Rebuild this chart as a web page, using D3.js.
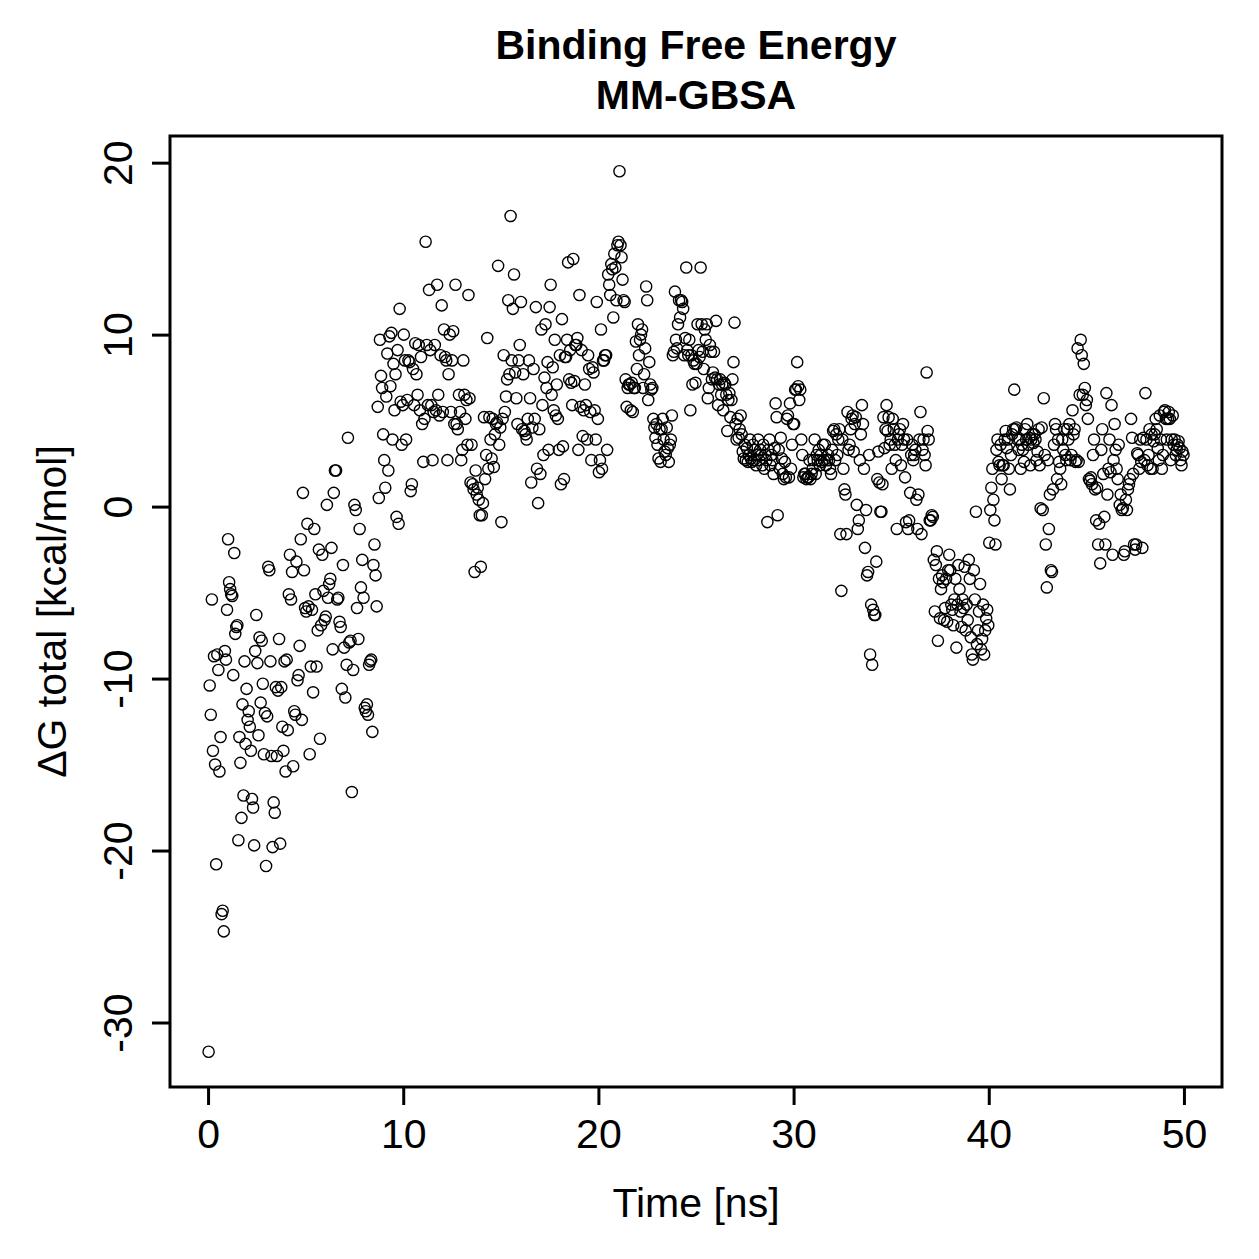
<!DOCTYPE html>
<html>
<head>
<meta charset="utf-8">
<script src="https://cdn.jsdelivr.net/npm/d3@7"></script>
<style>
  html, body { margin: 0; padding: 0; background: #fff; }
  svg text { font-family: "Liberation Sans", Arial, Helvetica, sans-serif; fill: #000; }
</style>
</head>
<body>
<svg id="chart" width="1259" height="1259"></svg>
<script>
// Chart texts
const titleLines = ["Binding Free Energy", "MM-GBSA"];
const xLabel = "Time [ns]";
const yLabel = "\u0394G total [kcal/mol]";
const xTicks = [0, 10, 20, 30, 40, 50];
const yTicks = [-30, -20, -10, 0, 10, 20];

// ΔG total values (kcal/mol), grouped per nanosecond of simulation time
const dG_00_10 = [
  [-31.7,-10.4,-12.1,-5.4,-14.2,-8.7,-15.0,-20.8,-8.6,-9.5,-15.4,-13.4,-23.7,-23.5,-24.7,-8.4,-8.9,-6.0],
  [-1.9,-4.4,-4.8,-5.1,-5.2,-9.8,-2.7,-7.4,-7.0,-6.9,-19.4,-13.4,-14.9,-18.1,-11.5,-16.8,-9.0,-13.8,-10.6],
  [-12.4,-11.9,-12.8,-14.2,-17.0,-17.5,-19.7,-8.4,-6.3,-9.1,-13.3,-7.6,-11.4,-7.8,-10.3,-14.4,-12.0,-20.9],
  [-12.2,-3.5,-3.7,-9.0,-14.5,-19.8,-17.2,-17.8,-10.5,-14.5,-10.7,-7.7,-19.6,-10.5,-12.8,-14.2,-9.0,-15.4],
  [-8.9,-13.0,-5.1,-2.8,-5.4,-3.8,-15.1,-11.9,-12.1,-3.2,-10.1,-9.8,-8.1,-1.9,-12.4,0.8,-3.7,-5.9],
  [-6.1,-1.0,-5.8,-14.4,-9.3,-6.0,-10.8,-1.3,-5.1,-9.3,-7.2,-2.5,-13.5,-6.9,-2.8,-4.9,-6.6],
  [-6.4,0.1,-5.3,-4.5,-4.2,-2.4,-8.3,0.8,2.1,2.1,-5.4,-5.3,-6.7,-7.0,-10.6,-3.4,-8.2],
  [-11.1,-9.2,4.0,-7.9,-7.8,-16.6,-9.5,0.1,-0.2,-5.9,-7.7,-1.3,-4.7,-3.1,-5.3],
  [-11.7,-11.9,-11.5,-12.1,-9.2,-9.0,-8.9,-13.1,-3.4,-2.2,-4.0,-5.8,5.8,0.5,9.7,7.6,6.9,4.2],
  [2.7,1.1,6.4,8.9,2.1,9.9,7.0,10.1,3.9,8.3,5.6,7.7,-0.6,9.1,-1.0,11.5,6.1,3.6,5.9]
];
const dG_10_20 = [
  [10.0,8.5,3.9,6.2,8.5,8.4,0.9,1.3,8.0,5.9,9.5,7.7,6.5,9.4,5.6,8.7,4.8],
  [2.6,5.1,15.4,9.4,5.9,12.6,9.1,5.9,2.7,5.5,9.4,5.6,12.9,6.5,5.3,8.8,11.7],
  [5.5,10.3,8.7,8.5,2.7,7.7,10.0,5.5,8.5,10.2,4.8,12.9,4.8,4.5,6.5,5.5,2.7],
  [3.3,8.5,6.5,5.1,6.2,3.6,12.3,6.3,1.4,3.6,1.3,1.0,-3.8,2.1,0.7,1.1,0.4,-0.5,-3.5],
  [-0.5,0.2,5.2,1.6,3.0,9.8,2.2,5.2,3.9,2.8,5.1,2.3,4.2,4.8,4.9,14.0,3.6,4.6],
  [-0.9,5.1,8.8,5.5,6.4,7.4,12.0,7.7,16.9,8.5,11.5,13.5,7.8,6.3,4.8,8.5,9.4],
  [11.9,4.5,7.7,4.4,4.2,3.9,5.1,8.5,6.3,1.4,4.6,8.0,5.1,11.6,2.2,0.2,4.5],
  [1.9,10.3,5.9,3.0,7.5,10.6,6.9,8.4,3.3,11.6,12.9,6.5,8.1,5.6,9.7,5.3,7.1,5.1,3.3],
  [8.8,1.3,10.9,3.5,1.6,8.7,8.7,9.7,14.2,7.4,9.1,7.2,5.9,14.4,7.3,9.4,9.4,9.8,3.3],
  [12.3,5.8,9.1,4.1,5.6,7.1,5.9,3.9,8.8,8.0,5.5,2.7,8.1,7.8,5.6,3.9,11.9,5.1]
];
const dG_20_30 = [
  [2.0,2.7,10.3,2.2,8.5,8.5,8.8,8.8,3.3,13.5,12.9,12.3,14.1,13.8,11.0,14.7,13.9,12.0,15.2],
  [15.4,19.5,15.2,14.5,13.2,12.0,11.9,7.4,5.8,6.9,7.1,7.1,5.6,7.2,5.5,6.9,6.9,9.6,8.0],
  [10.6,8.8,9.7,10.0,10.3,6.9,7.7,9.2,12.8,12.0,6.2,8.4,7.1,6.8,6.9,5.1,4.6,4.0,4.8],
  [3.6,2.8,4.5,2.6,4.5,5.1,3.9,3.2,3.0,4.6,3.4,2.6,3.6,3.9,5.3,8.8,9.0,12.5,9.7],
  [9.2,10.6,12.0,11.0,12.0,11.9,11.5,8.8,9.8,13.9,9.1,8.8,9.7,5.6,8.8,7.1,8.5,8.3,7.2],
  [8.3,10.6,9.1,8.7,13.9,10.6,9.0,8.0,10.3,9.7,10.6,6.3,6.9,9.4,9.0,7.4,7.8,9.0,7.5],
  [10.8,7.4,5.9,7.1,7.4,6.5,7.1,5.6,7.2,7.1,6.5,4.4,6.2,6.6,5.2,6.2,7.4,8.4,10.7],
  [4.8,3.9,5.1,4.0,4.5,5.3,4.2,3.2,2.8,3.6,2.7,3.4,2.6,3.0,3.9,2.8,2.6,3.6,2.7],
  [3.3,2.4,3.0,3.9,2.7,3.3,3.0,2.4,3.6,2.2,3.0,2.7,-0.9,3.3,3.9,2.4,3.0,2.7,1.9],
  [3.4,6.0,5.2,-0.5,3.3,2.2,4.0,2.8,1.9,1.6,2.6,1.7,5.1,5.3,1.7,6.0,2.2,3.6,4.8]
];
const dG_30_40 = [
  [4.8,6.8,6.8,8.4,7.0,6.2,6.8,3.9,3.0,1.7,1.9,1.9,1.6,1.7,1.7,2.7,1.6,1.9,2.2],
  [2.7,3.9,1.9,3.0,2.7,3.3,2.4,3.0,2.6,3.6,2.7,3.6,2.4,2.7,3.0,2.7,2.2,1.9,3.3],
  [4.4,4.5,2.7,4.2,3.0,3.9,4.5,-1.6,-4.9,3.9,2.2,1.0,0.7,-1.6,5.5,3.3,3.6,4.5,5.1],
  [5.3,3.2,4.8,5.2,0.1,-1.3,-0.8,2.7,4.2,5.9,4.8,2.2,-2.4,-0.2,-4.0,-3.8,3.0,-8.6,-5.7],
  [-9.2,-6.0,-6.3,-6.3,-3.2,1.6,3.2,1.4,-0.3,-0.3,1.3,5.2,3.4,4.5,5.9,4.4,5.2,3.6,3.9],
  [2.2,5.1,4.5,3.6,2.7,-1.3,3.9,4.2,4.5,2.4,3.6,4.8,3.9,1.7,-0.9,3.9,-1.3,-0.8,0.8],
  [3.0,3.6,2.7,3.0,3.3,0.4,-1.3,0.7,3.9,5.5,-1.6,3.3,3.9,3.0,2.4,7.8,4.4,3.9,-0.8],
  [-0.8,-0.5,-0.6,-3.1,-6.1,-3.4,-2.6,-7.8,-4.2,-6.5,-4.8,-4.0,-4.4,-6.6,-5.9,-4.2,-6.7,-3.7,-2.8],
  [-3.7,-5.7,-6.0,-6.9,-5.4,-4.2,-8.2,-5.7,-3.4,-4.8,-6.1,-7.0,-5.4,-5.9,-3.5,-7.2,-5.7,-6.6,-3.1],
  [-4.2,-7.6,-8.6,-8.9,-3.7,-5.4,-0.3,-8.0,-7.2,-6.1,-4.5,-8.3,-7.7,-5.7,-8.6,-7.2,-6.5,-6.0,-6.9]
];
const dG_40_50 = [
  [-2.1,-0.2,1.1,2.2,0.4,-0.8,-2.2,3.3,3.9,2.6,2.4,3.6,1.6,2.4,2.4,3.9,4.4,3.4,3.9],
  [2.2,1.0,3.0,4.2,4.5,6.8,4.5,4.6,3.9,3.3,3.9,2.2,3.6,3.3,2.6,4.5,3.9,4.8],
  [3.6,4.0,2.4,3.9,4.2,3.7,4.2,3.9,2.7,3.2,4.5,2.4,-0.1,4.6,-0.2,6.3,3.0,-2.2,-4.7],
  [2.7,-1.3,0.7,-3.7,-3.8,1.0,3.6,4.8,4.5,1.6,3.9,2.6,2.2,1.3,3.9,3.3,4.5,3.0,2.7],
  [4.5,3.9,4.8,2.7,3.0,5.6,4.2,4.5,2.6,2.7,9.2,2.6,6.5,9.7,8.8,6.5,8.3,6.9,5.9],
  [6.2,5.1,1.6,1.5,1.7,1.3,3.0,3.9,1.0,-0.8,1.1,-2.2,-1.0,-3.3,3.3,4.5,1.9,-0.6,-2.2],
  [6.6,0.7,2.2,3.9,2.0,5.9,-2.8,2.7,4.8,3.3,2.2,1.6,3.6,0.1,0.7,-0.2,-0.1,-2.8,-2.6],
  [0.4,-0.2,1.0,1.3,1.6,5.1,4.0,1.9,-2.2,-2.5,-2.2,3.1,3.0,2.2,3.9,2.6,-2.4,4.0,2.7],
  [6.6,3.9,2.4,3.0,4.5,2.2,4.2,2.2,3.8,4.2,5.1,4.5,3.4,2.7,5.3,3.9,2.2,3.0,5.5],
  [5.6,5.1,3.9,5.1,5.5,5.1,2.7,3.9,5.3,3.6,3.9,3.0,3.3,3.6,3.8,3.4,2.7,2.4,3.2,3.0]
];

// Build (time, value) table: each nanosecond's frames spread over that nanosecond
const perNs = [].concat(dG_00_10, dG_10_20, dG_20_30, dG_30_40, dG_40_50);
const points = [];
perNs.forEach((vals, ns) => {
  vals.forEach((v, j) => points.push({ t: ns + (j + 0.5) / vals.length, v: v }));
});

// Layout
const box = { left: 170, right: 1222, top: 136, bottom: 1087 };
const FONT = 41;

const svg = d3.select("#chart");

// R-style axis ranges (data range extended by 4% on each side)
const x = d3.scaleLinear().domain([-1.95, 51.95]).range([box.left, box.right]);
const y = d3.scaleLinear().domain([-33.75, 21.55]).range([box.bottom, box.top]);

// Points
svg.append("g")
  .selectAll("circle")
  .data(points)
  .join("circle")
  .attr("cx", d => x(d.t))
  .attr("cy", d => y(d.v))
  .attr("r", 5.6)
  .attr("fill", "none")
  .attr("stroke", "#000")
  .attr("stroke-width", 1.4);

// Plot box
svg.append("rect")
  .attr("x", box.left).attr("y", box.top)
  .attr("width", box.right - box.left).attr("height", box.bottom - box.top)
  .attr("fill", "none").attr("stroke", "#000").attr("stroke-width", 3);

const fmt = d => String(d); // plain hyphen-minus like R

// X axis (ticks only, R style)
const xAxis = d3.axisBottom(x).tickValues(xTicks).tickSize(18).tickPadding(14).tickFormat(fmt);
const gx = svg.append("g").attr("transform", `translate(0,${box.bottom})`).call(xAxis);
gx.select(".domain").remove();
gx.selectAll(".tick line").attr("stroke", "#000").attr("stroke-width", 3);
gx.selectAll(".tick text").attr("font-size", FONT).attr("fill", "#000");

// Y axis (ticks only, rotated labels)
const yAxis = d3.axisLeft(y).tickValues(yTicks).tickSize(18).tickFormat(fmt);
const gy = svg.append("g").attr("transform", `translate(${box.left},0)`).call(yAxis);
gy.select(".domain").remove();
gy.selectAll(".tick line").attr("stroke", "#000").attr("stroke-width", 3);
gy.selectAll(".tick text")
  .attr("font-size", FONT).attr("fill", "#000")
  .attr("text-anchor", "middle")
  .attr("x", 0).attr("y", -38).attr("dy", null)
  .attr("transform", "rotate(-90)");

// Titles
const cx = (box.left + box.right) / 2;
svg.append("text").attr("x", cx).attr("y", 59).attr("text-anchor", "middle")
  .attr("font-size", 41).attr("font-weight", "bold").text(titleLines[0]);
svg.append("text").attr("x", cx).attr("y", 109).attr("text-anchor", "middle")
  .attr("font-size", 41).attr("font-weight", "bold").text(titleLines[1]);

// Axis labels
svg.append("text").attr("x", cx).attr("y", 1217).attr("text-anchor", "middle")
  .attr("font-size", FONT).text(xLabel);
svg.append("text")
  .attr("transform", `translate(66,${(box.top + box.bottom) / 2}) rotate(-90)`)
  .attr("text-anchor", "middle").attr("font-size", FONT).text(yLabel);
</script>
</body>
</html>
